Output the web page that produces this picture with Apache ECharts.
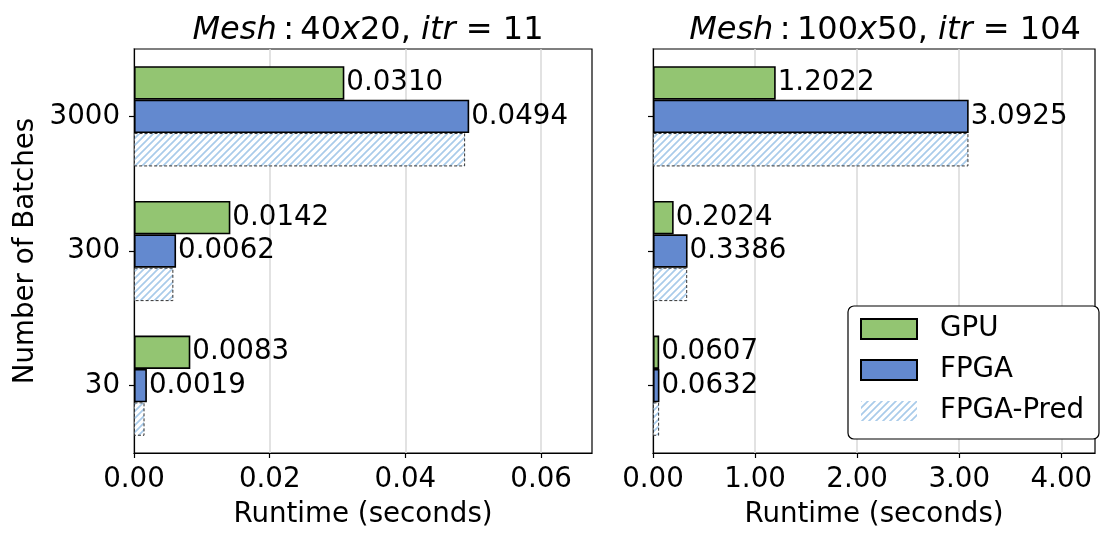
<!DOCTYPE html>
<html>
<head>
<meta charset="utf-8">
<script src="https://cdn.jsdelivr.net/npm/echarts@6/dist/echarts.min.js"></script>
<style>
  html, body { margin: 0; padding: 0; background: #fff; }
  #chart { width: 1105px; height: 536px; }
</style>
</head>
<body>
<div id="chart"></div>
<script>
// Batch sizes on the vertical axis (bottom to top)
const batches = ['30', '300', '3000'];

// Runtimes in seconds, mesh 40x20 (itr = 11)
const gpuSmall = [0.0083, 0.0142, 0.0310];
const fpgaSmall = [0.0019, 0.0062, 0.0494];
const predSmall = [0.00155, 0.0058, 0.0488];

// Runtimes in seconds, mesh 100x50 (itr = 104)
const gpuLarge = [0.0607, 0.2024, 1.2022];
const fpgaLarge = [0.0632, 0.3386, 3.0925];
const predLarge = [0.060, 0.335, 3.090];

// Axis ticks
const ticksSmall = [0, 0.02, 0.04, 0.06];
const ticksLarge = [0, 1, 2, 3, 4];

const FONT = 'DejaVu Sans';
const FS = 27.7;
const GREEN = '#93C572';
const BLUE = '#6389CF';
const HATCH = '#A9CBEA';

// Diagonal hatch tile for the predicted bars
function hatchPattern() {
  const s = 7;
  const c = document.createElement('canvas');
  c.width = s; c.height = s;
  const g = c.getContext('2d');
  g.fillStyle = '#fff';
  g.fillRect(0, 0, s, s);
  g.strokeStyle = HATCH;
  g.lineWidth = 1.7;
  g.beginPath();
  g.moveTo(-1, 1); g.lineTo(1, -1);
  g.moveTo(0, s); g.lineTo(s, 0);
  g.moveTo(s - 1, s + 1); g.lineTo(s + 1, s - 1);
  g.stroke();
  return { image: c, repeat: 'repeat' };
}
const hatch = hatchPattern();

const chart = echarts.init(document.getElementById('chart'), null, { renderer: 'canvas' });

const grids = [
  { left: 134, top: 49, width: 458, height: 404 },
  { left: 653, top: 49, width: 442, height: 404 }
];

function xAxis(idx, max, interval, ticks) {
  return {
    type: 'value', gridIndex: idx, min: 0, max: max, interval: interval,
    name: 'Runtime (seconds)', nameLocation: 'middle', nameGap: 48,
    nameTextStyle: { fontFamily: FONT, fontSize: FS, color: '#000' },
    axisLine: { show: true, onZero: false, lineStyle: { color: '#000', width: 1.2 } },
    axisTick: { show: true, length: 5, customValues: ticks, lineStyle: { color: '#000', width: 1.2 } },
    axisLabel: {
      customValues: ticks, margin: 13,
      fontFamily: FONT, fontSize: FS, color: '#000',
      formatter: v => v.toFixed(2)
    },
    splitLine: { show: true, lineStyle: { color: '#d9d9d9', width: 1.5 } }
  };
}

function yAxis(idx, showLabels) {
  return {
    type: 'category', gridIndex: idx, data: batches,
    name: showLabels ? 'Number of Batches' : '',
    nameLocation: 'middle', nameGap: 94,
    nameTextStyle: { fontFamily: FONT, fontSize: FS, color: '#000' },
    axisLine: { show: true, lineStyle: { color: '#000', width: 1.2 } },
    axisTick: { show: true, alignWithLabel: true, length: 5, lineStyle: { color: '#000', width: 1.2 } },
    axisLabel: { show: showLabels, margin: 14, fontFamily: FONT, fontSize: FS, color: '#000' },
    splitLine: { show: false }
  };
}

const labelOpt = {
  show: true, position: 'right', distance: 2,
  fontFamily: FONT, fontSize: FS, color: '#000',
  formatter: p => p.value.toFixed(4)
};

function bars(idx, gpu, fpga, pred) {
  return [
    {
      name: 'GPU', type: 'bar', xAxisIndex: idx, yAxisIndex: idx, data: gpu,
      barWidth: 33.4, barGap: '0%',
      itemStyle: { color: GREEN, borderColor: '#000', borderWidth: 1.6 },
      label: labelOpt
    },
    {
      name: 'FPGA', type: 'bar', xAxisIndex: idx, yAxisIndex: idx, data: fpga,
      barWidth: 33.4, barGap: '0%',
      itemStyle: { color: BLUE, borderColor: '#000', borderWidth: 1.6 },
      label: labelOpt
    },
    {
      name: 'FPGA-Pred', type: 'bar', xAxisIndex: idx, yAxisIndex: idx, data: pred,
      barWidth: 33.4, barGap: '0%',
      itemStyle: { color: hatch, borderColor: '#333', borderWidth: 1, borderType: [3, 2] }
    }
  ];
}

// Subplot titles: italic symbols, upright numbers
function titleText(mesh, itr) {
  return '{i|Mesh}{n|\u2009:\u2009' + mesh.replace('x', '}{i|x}{n|') + ', }{i|itr}{n| = ' + itr + '}';
}
const titleRich = {
  i: { fontFamily: FONT, fontSize: 32, fontStyle: 'italic', fontWeight: 'normal', color: '#000' },
  n: { fontFamily: FONT, fontSize: 32, fontWeight: 'normal', color: '#000' }
};

chart.setOption({
  animation: false,
  backgroundColor: '#fff',
  title: [
    { text: titleText('40x20', 11), left: 363, top: 10, textAlign: 'center', textStyle: { fontWeight: 'normal', rich: titleRich } },
    { text: titleText('100x50', 104), left: 880, top: 10, textAlign: 'center', textStyle: { fontWeight: 'normal', rich: titleRich } }
  ],
  grid: grids.map(g => Object.assign({ show: true, borderColor: '#000', borderWidth: 1.2, backgroundColor: 'transparent' }, g)),
  xAxis: [xAxis(0, 0.0675, 0.02, ticksSmall), xAxis(1, 4.33, 1, ticksLarge)],
  yAxis: [yAxis(0, true), yAxis(1, false)],
  legend: {
    orient: 'vertical', left: 848, top: 306,
    itemWidth: 56, itemHeight: 20, itemGap: 9,
    padding: [7, 15, 12, 12],
    backgroundColor: '#fff',
    borderColor: '#000', borderWidth: 1.2, borderRadius: 6,
    textStyle: { fontFamily: FONT, fontSize: FS, color: '#000', lineHeight: 32, padding: [0, 0, 0, 18] },
    data: [
      { name: 'GPU', icon: 'rect' },
      { name: 'FPGA', icon: 'rect' },
      { name: 'FPGA-Pred', icon: 'rect', itemStyle: { borderWidth: 0 } }
    ]
  },
  series: [].concat(
    bars(0, gpuSmall, fpgaSmall, predSmall),
    bars(1, gpuLarge, fpgaLarge, predLarge)
  )
});
</script>
</body>
</html>
